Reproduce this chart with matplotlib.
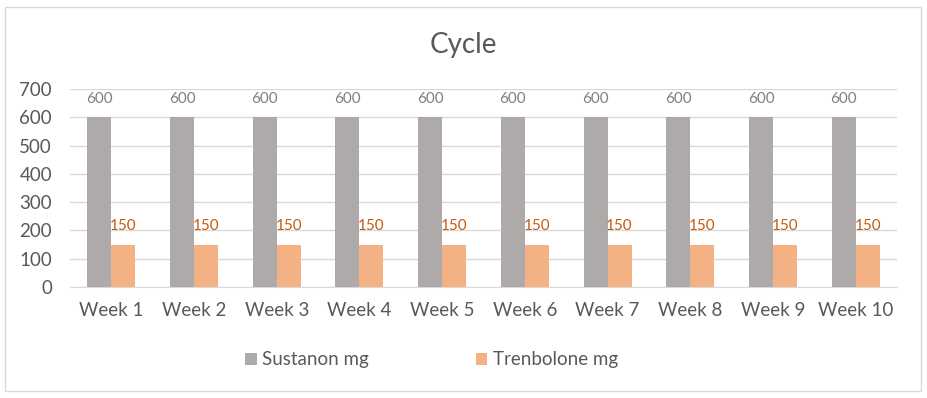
import matplotlib
matplotlib.use("Agg")
import matplotlib.pyplot as plt
import numpy as np
from matplotlib.patches import Rectangle

categories = ["Week 1", "Week 2", "Week 3", "Week 4", "Week 5", "Week 6", "Week 7", "Week 8", "Week 9", "Week 10"]
sustanon = [600, 600, 600, 600, 600, 600, 600, 600, 600, 600]
trenbolone = [150, 150, 150, 150, 150, 150, 150, 150, 150, 150]
yticks = [0, 100, 200, 300, 400, 500, 600, 700]

plt.rcParams['font.family'] = ['Lato', 'DejaVu Sans']

fig = plt.figure(figsize=(9.27, 3.98), dpi=100)
fig.patches.append(Rectangle((5/927, 7/398), 916/927, 384/398, transform=fig.transFigure,
                             fill=False, edgecolor="#D9D9D9", linewidth=1))
ax = fig.add_axes([70/927, 1 - 287/398, 827/927, 198/398])

x = np.arange(len(categories))
w = 0.29
c_gray = "#ADAAA9"
c_orange = "#F4B183"
b1 = ax.bar(x - w/2, sustanon, w, color=c_gray, label="Sustanon mg", zorder=3)
b2 = ax.bar(x + w/2, trenbolone, w, color=c_orange, label="Trenbolone mg", zorder=3)

for xi, v in zip(x, sustanon):
    ax.annotate(str(v), (xi - w/2, v), xytext=(0, 8), textcoords="offset points",
                ha="center", va="bottom", fontsize=11, color="#7F7F7F")
for xi, v in zip(x, trenbolone):
    ax.annotate(str(v), (xi + w/2, v), xytext=(0, 8), textcoords="offset points",
                ha="center", va="bottom", fontsize=11, color="#C55A11")

ax.set_xlim(-0.5, len(categories) - 0.5)
ax.set_ylim(0, 700)
ax.set_yticks(yticks)
ax.set_yticklabels([str(t) for t in yticks], fontsize=13.5, color="#595959")
ax.set_xticks(x)
ax.set_xticklabels(categories, fontsize=13.5, color="#595959")
ax.tick_params(axis="both", length=0)
ax.tick_params(axis="x", pad=11)
ax.tick_params(axis="y", pad=13)
ax.grid(axis="y", color="#D9D9D9", linewidth=1, zorder=0)
for s in ["top", "right", "left"]:
    ax.spines[s].set_visible(False)
ax.spines["bottom"].set_color("#D9D9D9")

fig.text(0.5, 1 - 45/398, "Cycle", ha="center", va="center", fontsize=20, color="#595959")

fig.legend(handles=[b1, b2], loc="center", bbox_to_anchor=(0.4655, 1 - 360/398), ncol=2,
           frameon=False, fontsize=13.5, labelcolor="#595959", handlelength=0.6, handleheight=0.6,
           columnspacing=5.7, handletextpad=0.3)

fig.savefig("out.png", dpi=100)
